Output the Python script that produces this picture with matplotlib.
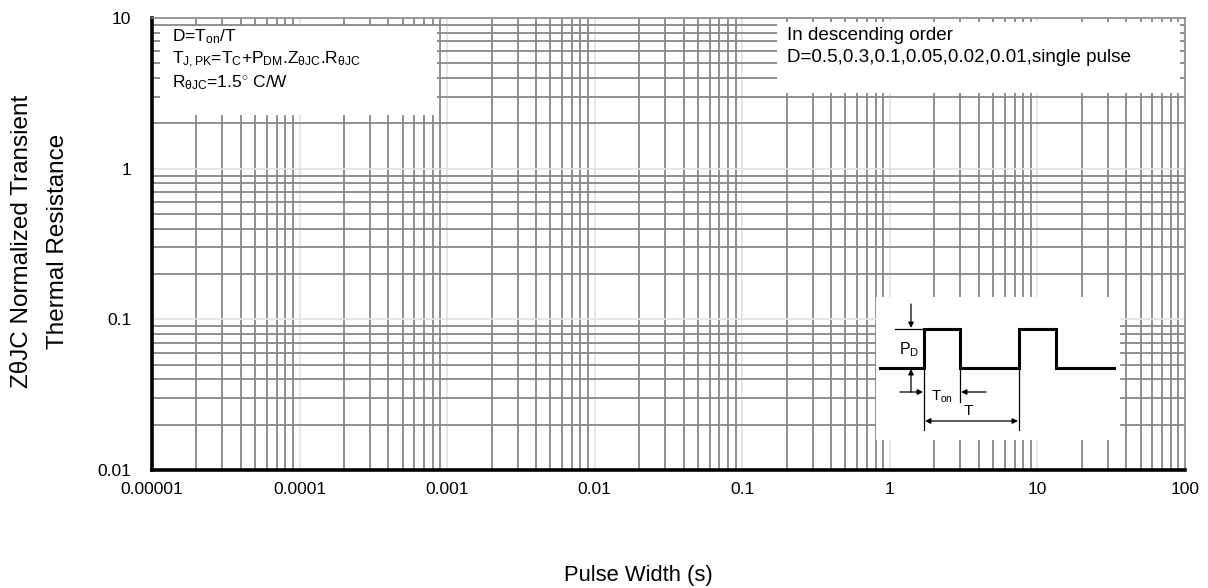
import matplotlib
matplotlib.use("Agg")
import matplotlib.pyplot as plt
from matplotlib.patches import Rectangle
from matplotlib.ticker import LogLocator, NullFormatter, FixedLocator

plt.rcParams['font.family'] = ['Liberation Sans', 'DejaVu Sans']
plt.rcParams['mathtext.fontset'] = 'custom'
plt.rcParams['mathtext.rm'] = 'Liberation Sans'
plt.rcParams['mathtext.it'] = 'Liberation Sans:italic'

# axis setup
x_ticks = [1e-5, 1e-4, 1e-3, 1e-2, 1e-1, 1, 10, 100]
x_tick_labels = ['0.00001', '0.0001', '0.001', '0.01', '0.1', '1', '10', '100']
y_ticks = [0.01, 0.1, 1, 10]
y_tick_labels = ['0.01', '0.1', '1', '10']

note_left = [r'D=T$_{\mathrm{on}}$/T',
             r'T$_{\mathrm{J,PK}}$=T$_{\mathrm{C}}$+P$_{\mathrm{DM}}$.Z$_{\mathrm{\theta JC}}$.R$_{\mathrm{\theta JC}}$',
             r'R$_{\mathrm{\theta JC}}$=1.5$^{\circ}$ C/W']
note_right = ['In descending order',
              'D=0.5,0.3,0.1,0.05,0.02,0.01,single pulse']

W, H = 1208, 588
fig = plt.figure(figsize=(W / 100, H / 100), dpi=100)
ax = fig.add_axes([152 / W, 1 - 470 / H, (1185 - 152) / W, (470 - 18) / H])

ax.set_xscale('log')
ax.set_yscale('log')
ax.set_xlim(x_ticks[0], x_ticks[-1])
ax.set_ylim(y_ticks[0], y_ticks[-1])
ax.xaxis.set_major_locator(FixedLocator(x_ticks))
ax.set_xticklabels(x_tick_labels)
ax.yaxis.set_major_locator(FixedLocator(y_ticks))
ax.set_yticklabels(y_tick_labels)
ax.xaxis.set_minor_locator(LogLocator(base=10, subs=range(2, 10), numticks=20))
ax.yaxis.set_minor_locator(LogLocator(base=10, subs=range(2, 10), numticks=20))
ax.xaxis.set_minor_formatter(NullFormatter())
ax.yaxis.set_minor_formatter(NullFormatter())
ax.tick_params(which='both', length=0, labelsize=12.5)
ax.tick_params(axis='x', pad=9)
ax.tick_params(axis='y', pad=15)

ax.grid(which='minor', color='#878787', lw=1.3)
ax.grid(which='major', color='#e2e2e2', lw=1.2)
ax.set_axisbelow(True)

for s in ['left', 'bottom']:
    ax.spines[s].set_linewidth(2.6)
    ax.spines[s].set_color('black')
for s in ['top', 'right']:
    ax.spines[s].set_linewidth(1.2)
    ax.spines[s].set_color('#878787')

# white note boxes over the grid
ax.add_patch(Rectangle((0.0077, 0.7854), 0.2682, 0.1969, transform=ax.transAxes,
                       facecolor='white', edgecolor='none', zorder=2))
ax.add_patch(Rectangle((0.605, 0.834), 0.390, 0.157, transform=ax.transAxes,
                       facecolor='white', edgecolor='none', zorder=2))

for i, t in enumerate(note_left):
    fig.text(172 / W, 1 - (37 + 23 * i) / H, t, fontsize=12.5, va='center', ha='left', zorder=5)
for i, t in enumerate(note_right):
    fig.text(787 / W, 1 - (35 + 23 * i) / H, t, fontsize=13.6, va='center', ha='left', zorder=5)

fig.text(22 / W, 1 - 241 / H, 'ZθJC Normalized Transient', rotation=90,
         fontsize=17.5, ha='center', va='center')
fig.text(58 / W, 1 - 241 / H, 'Thermal Resistance', rotation=90,
         fontsize=17.5, ha='center', va='center')
fig.text(638 / W, 1 - 575 / H, 'Pulse Width (s)', fontsize=15.8, ha='center', va='center')

# pulse schematic inset (pixel coordinates)
ins = fig.add_axes([876 / W, 1 - 440 / H, (1120 - 876) / W, (440 - 297) / H])
ins.set_xlim(876, 1120)
ins.set_ylim(440, 297)
ins.set_facecolor('white')
for s in ins.spines.values():
    s.set_visible(False)
ins.set_xticks([])
ins.set_yticks([])

wave_x = [880, 924, 924, 960, 960, 1019, 1019, 1056, 1056, 1114]
wave_y = [368, 368, 329, 329, 368, 368, 329, 329, 368, 368]
ins.plot(wave_x, wave_y, color='black', lw=2.2, solid_joinstyle='miter')
ins.plot([895, 924], [329, 329], color='black', lw=0.9)
ins.plot([924, 924], [368, 430], color='black', lw=0.9)
ins.plot([960, 960], [368, 402], color='black', lw=0.9)
ins.plot([1019, 1019], [368, 430], color='black', lw=0.9)
arr = dict(arrowstyle='-|>', color='black', lw=0.9, mutation_scale=8, shrinkA=0, shrinkB=0)
ins.annotate('', xy=(911, 328), xytext=(911, 304), arrowprops=arr)
ins.annotate('', xy=(911, 369), xytext=(911, 392), arrowprops=arr)
ins.annotate('', xy=(923, 392), xytext=(900, 392), arrowprops=arr)
ins.annotate('', xy=(961, 392), xytext=(986, 392), arrowprops=arr)
ins.annotate('', xy=(1018, 421), xytext=(925, 421),
             arrowprops=dict(arrowstyle='<|-|>', color='black', lw=0.9, mutation_scale=8,
                             shrinkA=0, shrinkB=0))
ins.text(909, 350, r'P$_{\mathrm{D}}$', fontsize=11.5, ha='center', va='center')
ins.text(942, 397, r'T$_{\mathrm{on}}$', fontsize=10.5, ha='center', va='center')
ins.text(968, 411, 'T', fontsize=11, ha='center', va='center')

fig.savefig('out.png', dpi=100, facecolor='white')
